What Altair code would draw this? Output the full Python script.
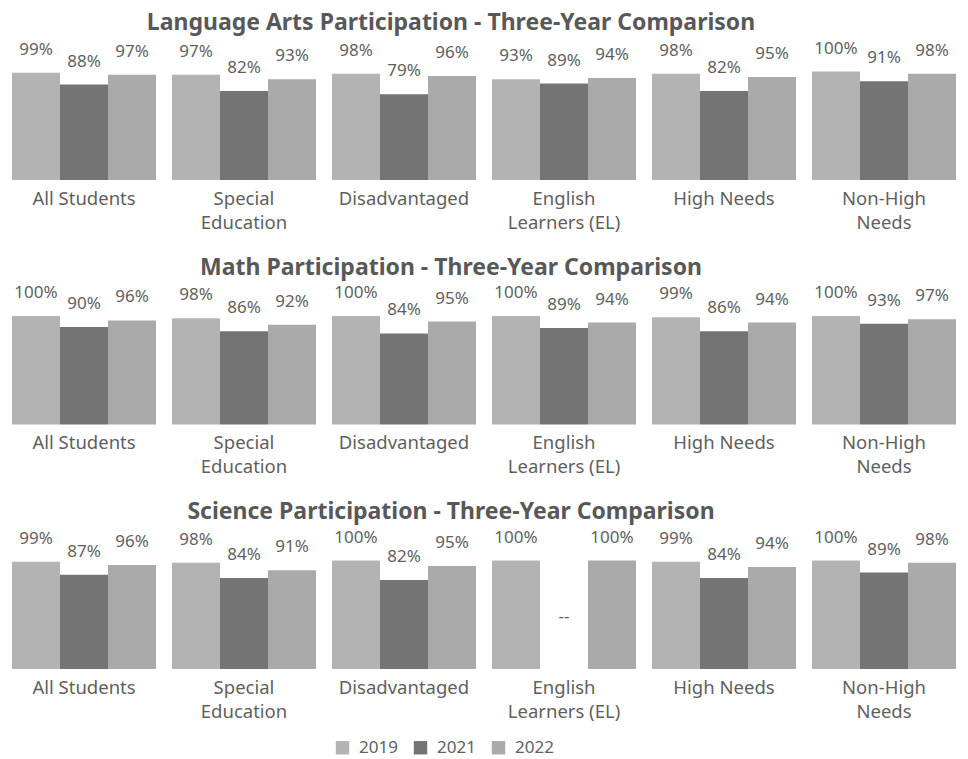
import altair as alt
import pandas as pd

groups = ["All Students", "Special|Education", "Disadvantaged",
          "English|Learners (EL)", "High Needs", "Non-High|Needs"]
years = ["2019", "2021", "2022"]
subjects = ["Language Arts", "Math", "Science"]

la_2019 = [99, 97, 98, 93, 98, 100]
la_2021 = [88, 82, 79, 89, 82, 91]
la_2022 = [97, 93, 96, 94, 95, 98]

math_2019 = [100, 98, 100, 100, 99, 100]
math_2021 = [90, 86, 84, 89, 86, 93]
math_2022 = [96, 92, 95, 94, 94, 97]

sci_2019 = [99, 98, 100, 100, 99, 100]
sci_2021 = [87, 84, 82, None, 84, 89]
sci_2022 = [96, 91, 95, 100, 94, 98]

series = {
    "Language Arts": [la_2019, la_2021, la_2022],
    "Math": [math_2019, math_2021, math_2022],
    "Science": [sci_2019, sci_2021, sci_2022],
}
colors = ["#b3b3b3", "#747474", "#aaaaaa"]
text_color = "#5f5f5f"

rows = []
for s in subjects:
    for yi, yr in enumerate(years):
        for gi, g in enumerate(groups):
            v = series[s][yi][gi]
            rows.append({
                "subject": s,
                "group": g,
                "year": yr,
                "value": v,
                "label": f"{v}%" if v is not None else "--",
            })
df = pd.DataFrame(rows)

Y_DOMAIN = [0, 131]


def subject_chart(s, show_legend):
    base = alt.Chart(df[df["subject"] == s]).transform_calculate(
        label_y="isValid(datum.value) ? datum.value : 27"
    )
    x = alt.X(
        "group:N", sort=groups, title=None,
        scale=alt.Scale(paddingInner=0.1, paddingOuter=0.025),
        axis=alt.Axis(labelExpr="split(datum.label, '|')", labelAngle=0,
                      domain=False, ticks=False, labelPadding=9,
                      labelFontSize=18.5, labelLineHeight=24,
                      labelColor=text_color, labelBaseline="top"),
    )
    xo = alt.XOffset("year:N", sort=years,
                     scale=alt.Scale(paddingInner=0, paddingOuter=0))
    if show_legend:
        legend = alt.Legend(
            title=None, orient="none", direction="horizontal",
            legendX=326, legendY=701, symbolType="square", symbolSize=180,
            labelFontSize=17, labelColor=text_color, symbolStrokeWidth=0,
            columnPadding=14, labelOffset=8,
        )
    else:
        legend = None
    bars = base.mark_bar().encode(
        x=x, xOffset=xo,
        y=alt.Y("value:Q", scale=alt.Scale(domain=Y_DOMAIN), axis=None),
        color=alt.Color("year:N", scale=alt.Scale(domain=years, range=colors),
                        legend=legend),
    )
    labels = base.mark_text(dy=-23, fontSize=17, color=text_color).encode(
        x=x, xOffset=xo,
        y=alt.Y("label_y:Q", scale=alt.Scale(domain=Y_DOMAIN), axis=None),
        text="label:N",
    )
    return alt.layer(bars, labels).properties(
        width=952, height=142,
        title=alt.TitleParams(
            f"{s} Participation - Three-Year Comparison",
            fontSize=23, fontWeight="bold", color="#585858",
            anchor="middle", dx=-33, offset=3,
        ),
    )


chart = alt.vconcat(
    subject_chart("Language Arts", True),
    subject_chart("Math", False),
    subject_chart("Science", False),
    spacing=24.5,
).properties(
    padding={"left": 0, "top": 4, "right": 0, "bottom": 0},
).configure(font="Noto Sans").configure_view(stroke=None)

chart.save("out.html", embed_options={"renderer": "svg", "actions": False})
